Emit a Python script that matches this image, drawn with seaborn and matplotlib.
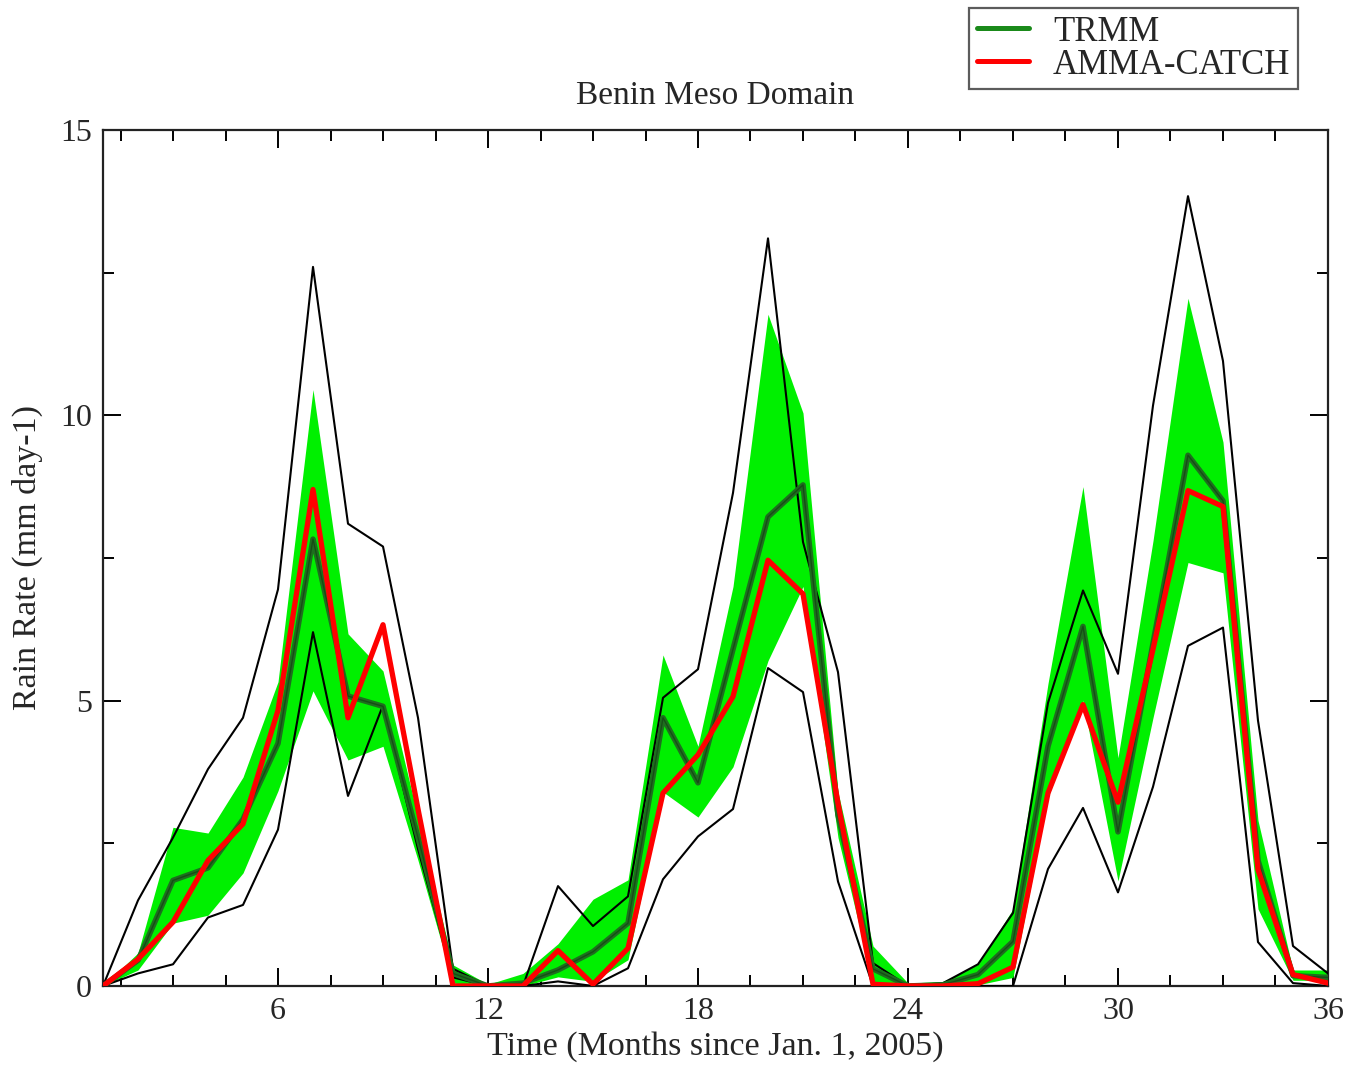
import numpy as np
import pandas as pd
import matplotlib
matplotlib.use("Agg")
import matplotlib.pyplot as plt
from matplotlib.lines import Line2D
from matplotlib.ticker import MultipleLocator
import seaborn as sns

# Monthly rain rates (mm/day), months since Jan. 1, 2005
months = list(range(1, 37))

trmm_mean = [0.0, 0.45, 1.85, 2.07, 2.92, 4.25, 7.83, 5.08, 4.9, 2.6, 0.22, 0.0,
             0.05, 0.28, 0.6, 1.1, 4.7, 3.56, 5.9, 8.22, 8.78, 3.0, 0.3, 0.0,
             0.02, 0.2, 0.78, 4.2, 6.3, 2.7, 6.0, 9.3, 8.5, 2.2, 0.18, 0.15]

trmm_upper = [0.0, 0.58, 2.78, 2.68, 3.66, 5.33, 10.45, 6.17, 5.52, 2.95, 0.37, 0.03,
              0.22, 0.74, 1.52, 1.86, 5.8, 4.2, 7.0, 11.77, 10.04, 3.4, 0.7, 0.05,
              0.08, 0.38, 1.35, 5.3, 8.75, 4.0, 7.8, 12.05, 9.53, 2.9, 0.28, 0.28]

trmm_lower = [0.0, 0.28, 1.1, 1.24, 1.98, 3.42, 5.17, 3.96, 4.2, 2.2, 0.05, 0.0,
              0.0, 0.16, 0.08, 0.46, 3.4, 2.96, 3.84, 5.7, 7.0, 2.6, 0.05, 0.0,
              0.0, 0.02, 0.15, 3.3, 5.0, 1.84, 4.7, 7.42, 7.24, 1.35, 0.1, 0.1]

amma_catch = [0.0, 0.47, 1.12, 2.2, 2.84, 4.83, 8.7, 4.7, 6.33, 3.1, 0.0, 0.0,
              0.0, 0.62, 0.03, 0.66, 3.38, 4.05, 5.07, 7.46, 6.87, 3.2, 0.03, 0.0,
              0.0, 0.04, 0.33, 3.38, 4.93, 3.22, 5.9, 8.68, 8.4, 2.04, 0.2, 0.05]

env_max = [0.0, 1.5, 2.6, 3.8, 4.7, 6.95, 12.6, 8.1, 7.7, 4.7, 0.3, 0.0,
           0.0, 1.75, 1.05, 1.57, 5.05, 5.55, 8.64, 13.1, 7.78, 5.5, 0.4, 0.0,
           0.05, 0.38, 1.28, 4.96, 6.93, 5.47, 10.17, 13.84, 10.95, 4.65, 0.7, 0.22]

env_min = [0.0, 0.22, 0.38, 1.2, 1.42, 2.74, 6.2, 3.33, 4.92, 2.4, 0.15, 0.0,
           0.0, 0.08, 0.0, 0.31, 1.87, 2.62, 3.1, 5.57, 5.15, 1.83, 0.0, 0.0,
           0.0, 0.0, 0.0, 2.05, 3.12, 1.64, 3.49, 5.96, 6.28, 0.77, 0.05, 0.0]

x_ticks = [6, 12, 18, 24, 30, 36]
y_ticks = [0, 5, 10, 15]

df = pd.DataFrame({
    "month": months,
    "trmm": trmm_mean,
    "trmm_hi": trmm_upper,
    "trmm_lo": trmm_lower,
    "amma": amma_catch,
    "vmax": env_max,
    "vmin": env_min,
})

sns.set_theme(style="ticks")
serif = ["Liberation Serif", "DejaVu Serif"]
plt.rcParams["font.family"] = serif

fig = plt.figure(figsize=(13.5, 10.65), dpi=100)
ax = fig.add_axes([0.0763, 0.0742, 0.9074, 0.8038])

# TRMM spread
ax.fill_between(df["month"], df["trmm_lo"], df["trmm_hi"],
                color="#00f000", linewidth=0, zorder=1)

# envelope lines
sns.lineplot(data=df, x="month", y="vmax", color="black", linewidth=1.5,
             ax=ax, zorder=3, legend=False)
sns.lineplot(data=df, x="month", y="vmin", color="black", linewidth=1.5,
             ax=ax, zorder=3, legend=False)

# TRMM mean
sns.lineplot(data=df, x="month", y="trmm", color="#1e6e1e", linewidth=4.0,
             ax=ax, zorder=4, legend=False)
sns.lineplot(data=df, x="month", y="trmm", color="#123812", linewidth=1.0,
             alpha=0.6, ax=ax, zorder=4, legend=False)

# AMMA-CATCH
sns.lineplot(data=df, x="month", y="amma", color="#ff0000", linewidth=3.8,
             ax=ax, zorder=5, legend=False)

ax.set_xlim(1, 36)
ax.set_ylim(0, 15)
ax.set_xticks(x_ticks)
ax.set_yticks(y_ticks)
ax.xaxis.set_minor_locator(MultipleLocator(1.5))
ax.yaxis.set_minor_locator(MultipleLocator(2.5))
ax.tick_params(which="both", direction="in", top=True, right=True,
               width=1.4, color="black", labelsize=23, pad=8)
ax.tick_params(which="major", length=13)
ax.tick_params(which="minor", length=8)
for s in ax.spines.values():
    s.set_linewidth(1.6)
    s.set_color("#222222")

ax.set_xlabel("Time (Months since Jan. 1, 2005)", fontsize=24.5, labelpad=4)
ax.set_ylabel("Rain Rate (mm day-1)", fontsize=24.5, labelpad=12)
ax.set_title("Benin Meso Domain", fontsize=24, pad=19)

handles = [Line2D([], [], color="#1a8a1a", linewidth=3.6),
           Line2D([], [], color="#ff0000", linewidth=3.6)]
leg = fig.legend(handles, ["TRMM", "AMMA-CATCH"], loc="upper right",
                 bbox_to_anchor=(0.9615, 0.9925), frameon=True, fancybox=False,
                 fontsize=25, handlelength=1.5, handletextpad=0.7,
                 borderpad=0.22, labelspacing=0.0, borderaxespad=0)
leg.get_frame().set_edgecolor("#333333")
leg.get_frame().set_linewidth(1.6)

fig.savefig("out.png", dpi=100)
